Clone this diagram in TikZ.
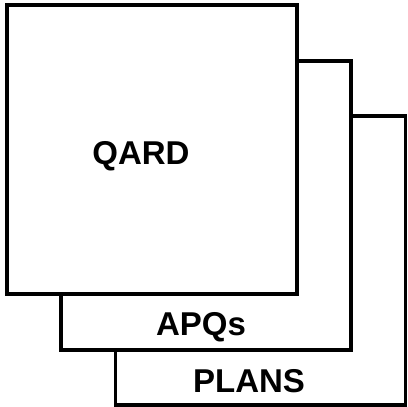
\documentclass[tikz,border=0pt]{standalone}
\usepackage{fontspec}
\setmainfont{Liberation Sans}
\begin{document}
\begin{tikzpicture}[x=1bp,y=-1bp,
  sheet/.style={draw=black,fill=white,line width=3.2bp,inner sep=0pt,
    minimum width=290bp,minimum height=289bp},
  lbl/.style={font=\bfseries\fontsize{33bp}{38bp}\selectfont,inner sep=0pt,anchor=base}]
\useasboundingbox (0,0) rectangle (408,407);
\node[sheet] (plans) at (260.5,260.5) {};
\node[sheet] (apqs) at (206,205.5) {};
\node[sheet] (qard) at (152,149.5) {};
\node[lbl] (tqard) at (141,164) {QARD};
\node[lbl] (tapqs) at (201,335) {APQs};
\node[lbl] (tplans) at (249,392) {PLANS};
\end{tikzpicture}
\end{document}
